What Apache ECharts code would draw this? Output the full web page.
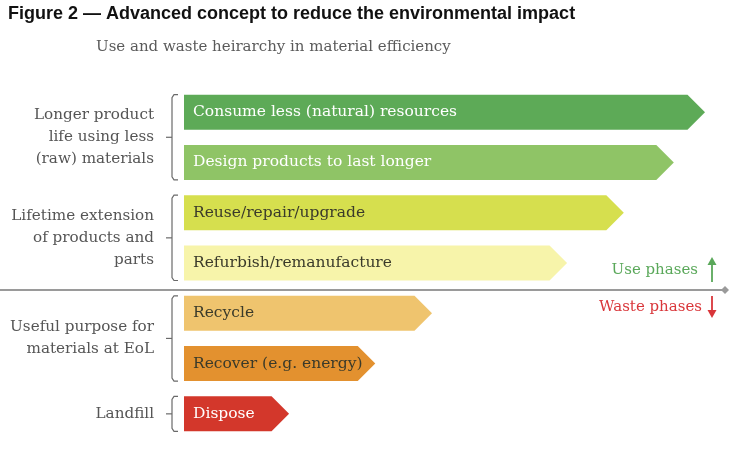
<!DOCTYPE html>
<html>
<head>
<meta charset="utf-8">
<script src="https://cdn.jsdelivr.net/npm/echarts@6/dist/echarts.min.js"></script>
<style>
html,body{margin:0;padding:0;background:#fff;}
#chart{width:740px;height:450px;}
</style>
</head>
<body>
<div id="chart"></div>
<script>
// ---- Data ----
const categories = [
  'Consume less (natural) resources',
  'Design products to last longer',
  'Reuse/repair/upgrade',
  'Refurbish/remanufacture',
  'Recycle',
  'Recover (e.g. energy)',
  'Dispose'
];
const values = [93.7, 88.1, 79.1, 68.9, 44.6, 34.4, 18.9];
const barColors = ['#5daa57', '#8fc466', '#d6df4e', '#f7f4aa', '#efc46e', '#e3912f', '#d3372b'];
const labelColors = ['#ffffff', '#ffffff', '#3a3a2a', '#3a3a2a', '#3a3a2a', '#3a3a2a', '#ffffff'];
const groupLabels = [
  'Longer product\nlife using less\n(raw) materials',
  'Lifetime extension\nof products and\nparts',
  'Useful purpose for\nmaterials at EoL',
  'Landfill'
];
const groupStart = [0, 2, 4, 6];
const groupEnd = [1, 3, 5, 6];
const titleText = 'Figure 2 \u2014 Advanced concept to reduce the environmental impact';
const subtitleText = 'Use and waste heirarchy in material efficiency';
const useText = 'Use phases';
const wasteText = 'Waste phases';

const SERIF = '"DejaVu Serif", serif';
const BAR_H = 35;

const chart = echarts.init(document.getElementById('chart'), null, {renderer: 'canvas'});

const arrowData = values.map((v, i) => [v, i]);
const groupData = groupStart.map((s, i) => [groupStart[i], groupEnd[i], i]);

const option = {
  animation: false,
  backgroundColor: '#ffffff',
  grid: {left: 184, right: 0, top: 87, bottom: 11},
  xAxis: {type: 'value', min: 0, max: 100, show: false},
  yAxis: {type: 'category', data: categories, inverse: true, show: false},
  title: [
    {text: titleText, left: 3, top: 0,
     textStyle: {fontFamily: '"Liberation Sans", Arial, sans-serif', fontWeight: 'bold', fontSize: 18, color: '#111'}},
    {text: subtitleText, left: 91, top: 35,
     textStyle: {fontFamily: SERIF, fontWeight: 'normal', fontSize: 15, color: '#5a5a5a'}}
  ],
  series: [
    {
      type: 'custom',
      coordinateSystem: 'cartesian2d',
      encode: {x: 0, y: 1},
      data: arrowData,
      renderItem: function (params, api) {
        const idx = api.value(1);
        const s = api.coord([0, idx]);
        const e = api.coord([api.value(0), idx]);
        const h = BAR_H, tip = h / 2;
        const y = s[1];
        return {
          type: 'group',
          children: [
            {type: 'polygon',
             shape: {points: [[s[0], y - h / 2], [e[0] - tip, y - h / 2], [e[0], y], [e[0] - tip, y + h / 2], [s[0], y + h / 2]]},
             style: {fill: barColors[idx]}},
            {type: 'text',
             style: {x: s[0] + 9, y: y, text: categories[idx], fill: labelColors[idx],
                     font: '15.5px ' + SERIF, textAlign: 'left', textVerticalAlign: 'middle'}}
          ]
        };
      }
    },
    {
      type: 'custom',
      coordinateSystem: 'cartesian2d',
      encode: {y: [0, 1]},
      data: groupData,
      renderItem: function (params, api) {
        const a = api.coord([0, api.value(0)]);
        const b = api.coord([0, api.value(1)]);
        const gi = api.value(2);
        const top = a[1] - BAR_H / 2, bot = b[1] + BAR_H / 2;
        const mid = (top + bot) / 2;
        const x = a[0] - 12;
        return {
          type: 'group',
          children: [
            {type: 'polyline',
             shape: {points: [[x + 6, top], [x + 2, top], [x, top + 3], [x, bot - 3], [x + 2, bot], [x + 6, bot]]},
             style: {stroke: '#6a6a6a', lineWidth: 1.2, fill: null}},
            {type: 'line', shape: {x1: x - 6, y1: mid, x2: x, y2: mid},
             style: {stroke: '#6a6a6a', lineWidth: 1.2}},
            {type: 'text',
             style: {x: x - 18, y: mid, text: groupLabels[gi], fill: '#555555',
                     font: '15.2px ' + SERIF, lineHeight: 22,
                     textAlign: 'right', textVerticalAlign: 'middle'}}
          ]
        };
      }
    }
  ],
  graphic: [
    {type: 'line', shape: {x1: 0, y1: 290, x2: 722, y2: 290}, style: {stroke: '#9a9a9a', lineWidth: 2}},
    {type: 'polygon', shape: {points: [[725, 286], [729, 290], [725, 294], [721, 290]]}, style: {fill: '#9a9a9a'}},
    {type: 'text', style: {x: 698, y: 270, text: useText, fill: '#5aa85a', font: '15px ' + SERIF, textAlign: 'right', textVerticalAlign: 'middle'}},
    {type: 'line', shape: {x1: 712, y1: 282, x2: 712, y2: 261}, style: {stroke: '#5aa85a', lineWidth: 1.8}},
    {type: 'polygon', shape: {points: [[712, 257], [716.5, 265], [707.5, 265]]}, style: {fill: '#5aa85a'}},
    {type: 'text', style: {x: 702, y: 307, text: wasteText, fill: '#d9363a', font: '15px ' + SERIF, textAlign: 'right', textVerticalAlign: 'middle'}},
    {type: 'line', shape: {x1: 712, y1: 296, x2: 712, y2: 314}, style: {stroke: '#d9363a', lineWidth: 1.8}},
    {type: 'polygon', shape: {points: [[712, 318], [716.5, 310], [707.5, 310]]}, style: {fill: '#d9363a'}}
  ]
};
chart.setOption(option);
</script>
</body>
</html>
